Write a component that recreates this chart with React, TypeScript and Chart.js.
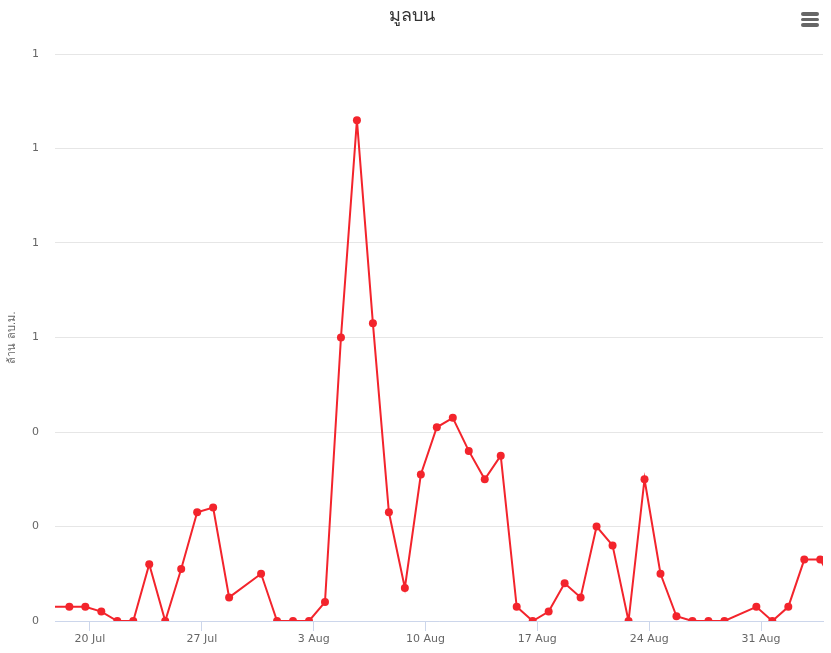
import React, { useEffect, useRef } from 'react';
import { Chart, registerables } from 'chart.js';

Chart.register(...registerables);

const titleText = 'มูลบน';
const yAxisTitle = 'ล้าน ลบ.ม.';

const dates = [
  '2020-07-18', '2020-07-19', '2020-07-20', '2020-07-21', '2020-07-22', '2020-07-23',
  '2020-07-24', '2020-07-25', '2020-07-26', '2020-07-27', '2020-07-28', '2020-07-29',
  '2020-07-31', '2020-08-01', '2020-08-02', '2020-08-03', '2020-08-04', '2020-08-05',
  '2020-08-06', '2020-08-07', '2020-08-08', '2020-08-09', '2020-08-10', '2020-08-11',
  '2020-08-12', '2020-08-13', '2020-08-14', '2020-08-15', '2020-08-16', '2020-08-17',
  '2020-08-18', '2020-08-19', '2020-08-20', '2020-08-21', '2020-08-22', '2020-08-23',
  '2020-08-24', '2020-08-25', '2020-08-26', '2020-08-27', '2020-08-28', '2020-08-29',
  '2020-08-31', '2020-09-01', '2020-09-02', '2020-09-03', '2020-09-04', '2020-09-05',
];

const values = [
  0.03, 0.03, 0.03, 0.02, 0, 0,
  0.12, 0, 0.11, 0.23, 0.24, 0.05,
  0.1, 0, 0, 0, 0.04, 0.6,
  1.06, 0.63, 0.23, 0.07, 0.31, 0.41,
  0.43, 0.36, 0.3, 0.35, 0.03, 0,
  0.02, 0.08, 0.05, 0.2, 0.16, 0,
  0.3, 0.1, 0.01, 0, 0, 0,
  0.03, 0, 0.03, 0.13, 0.13, 0.07,
];

const yTicks = [0, 0.2, 0.4, 0.6, 0.8, 1.0, 1.2];
const xTickDates = ['2020-07-20', '2020-07-27', '2020-08-03', '2020-08-10', '2020-08-17', '2020-08-24', '2020-08-31'];
const xTickLabels = ['20 Jul', '27 Jul', '3 Aug', '10 Aug', '17 Aug', '24 Aug', '31 Aug'];

const DAY = 86400000;
const TZ_OFFSET = 7 * 3600000; // points at local midnight (UTC+7)
const toUTC = (s: string) => {
  const [y, m, d] = s.split('-').map(Number);
  return Date.UTC(y, m - 1, d);
};

const FONT = '"DejaVu Sans", "Noto Sans", sans-serif';

export default function App() {
  const ref = useRef<HTMLCanvasElement | null>(null);

  useEffect(() => {
    document.body.style.margin = '0';
    const canvas = ref.current;
    if (!canvas) return;
    const points = dates.map((d, i) => ({ x: toUTC(d) - TZ_OFFSET, y: values[i] }));
    const tickVals = xTickDates.map(toUTC);
    const base = tickVals[0];
    const xMin = base - 2.19 * DAY;
    const xMax = base + 45.88 * DAY;
    const red = 'rgb(243,36,44)';

    const chart = new Chart(canvas, {
      type: 'line',
      data: {
        datasets: [
          {
            data: points,
            borderColor: red,
            backgroundColor: red,
            borderWidth: 2,
            pointRadius: (ctx: any) => {
              const p = ctx.raw;
              return p && p.x >= xMin && p.x <= xMax ? 4 : 0;
            },
            pointHoverRadius: 4,
            pointBorderWidth: 0,
            tension: 0,
          },
        ],
      },
      options: {
        animation: false,
        responsive: false,
        maintainAspectRatio: false,
        layout: { padding: { left: 0, right: 8, top: 0, bottom: 0 } },
        plugins: {
          legend: { display: false },
          tooltip: { enabled: false },
          title: {
            display: true,
            text: titleText,
            color: '#333333',
            font: { family: FONT, size: 18, weight: 'normal' },
            padding: { top: 6, bottom: 26.4 },
          },
        },
        scales: {
          x: {
            type: 'linear',
            min: xMin,
            max: xMax,
            afterBuildTicks: (scale: any) => {
              scale.ticks = tickVals.map((v) => ({ value: v }));
            },
            afterFit: (scale: any) => {
              scale.height = 32;
            },
            ticks: {
              color: '#666666',
              font: { family: FONT, size: 11 },
              padding: 2,
              maxRotation: 0,
              autoSkip: false,
              callback: (value: any) => {
                const i = tickVals.indexOf(Number(value));
                return i >= 0 ? xTickLabels[i] : '';
              },
            },
            grid: {
              drawOnChartArea: false,
              drawTicks: true,
              tickLength: 10,
              color: '#ccd6eb',
            },
            border: { display: true, color: '#ccd6eb', width: 1 },
          },
          y: {
            min: 0,
            max: 1.2,
            afterBuildTicks: (scale: any) => {
              scale.ticks = yTicks.map((v) => ({ value: v }));
            },
            afterFit: (scale: any) => {
              scale.width = 55;
            },
            ticks: {
              color: '#666666',
              font: { family: FONT, size: 11 },
              padding: 16,
              callback: (value: any) => String(Math.round(Number(value))),
            },
            grid: {
              color: '#e6e6e6',
              drawTicks: false,
            },
            border: { display: false },
            title: {
              display: true,
              text: yAxisTitle,
              color: '#666666',
              font: { family: FONT, size: 11 },
              padding: { top: 6, bottom: 0 },
            },
          },
        },
      },
    });
    return () => chart.destroy();
  }, []);

  const bar: React.CSSProperties = {
    position: 'absolute',
    left: 801,
    width: 18,
    height: 3.5,
    borderRadius: 2,
    background: '#666666',
  };

  return (
    <div style={{ position: 'relative', width: 831, height: 653, background: '#ffffff' }}>
      <canvas ref={ref} width={831} height={653} style={{ display: 'block', width: 831, height: 653 }} />
      <div style={{ ...bar, top: 12 }} />
      <div style={{ ...bar, top: 17.5 }} />
      <div style={{ ...bar, top: 23 }} />
    </div>
  );
}
